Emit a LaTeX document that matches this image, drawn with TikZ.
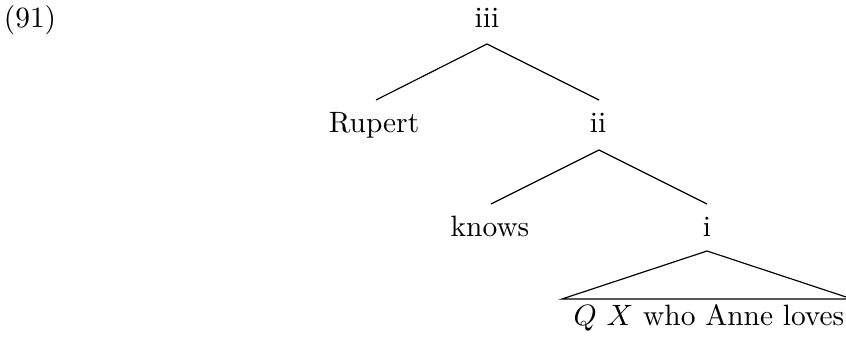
\documentclass[tikz,border=0pt]{standalone}
\usetikzlibrary{calc}
\begin{document}
\begin{tikzpicture}[x=0.340pt,y=-0.340pt,
  lbl/.style={anchor=base,inner sep=0pt,outer sep=0pt},
  edge/.style={line width=0.4pt}]
\useasboundingbox (0,0) rectangle (846,350);
\node[lbl] (n91) at (30,28) {(91)};
\node[lbl] (iii) at (487,28) {iii};
\node[lbl] (rupert) at (374,133) {Rupert};
\node[lbl] (ii) at (598,133) {ii};
\node[lbl] (knows) at (490,237) {knows};
\node[lbl] (i) at (707,237) {i};
\node[lbl] (qx) at (709,326) {$Q$ $X$ who Anne loves};
\draw[edge] ($(iii.base)+(0,16)$) -- ($(rupert.base)+(2,-33)$);
\draw[edge] ($(iii.base)+(0,16)$) -- ($(ii.base)+(1,-33)$);
\draw[edge] ($(ii.base)+(1,17)$) -- ($(knows.base)+(1,-33)$);
\draw[edge] ($(ii.base)+(1,17)$) -- ($(i.base)+(0,-33)$);
\draw[edge] ($(i.base)+(0,14)$) -- ($(i.base)+(-145,62)$) -- ($(i.base)+(145,62)$) -- cycle;
\end{tikzpicture}
\end{document}
